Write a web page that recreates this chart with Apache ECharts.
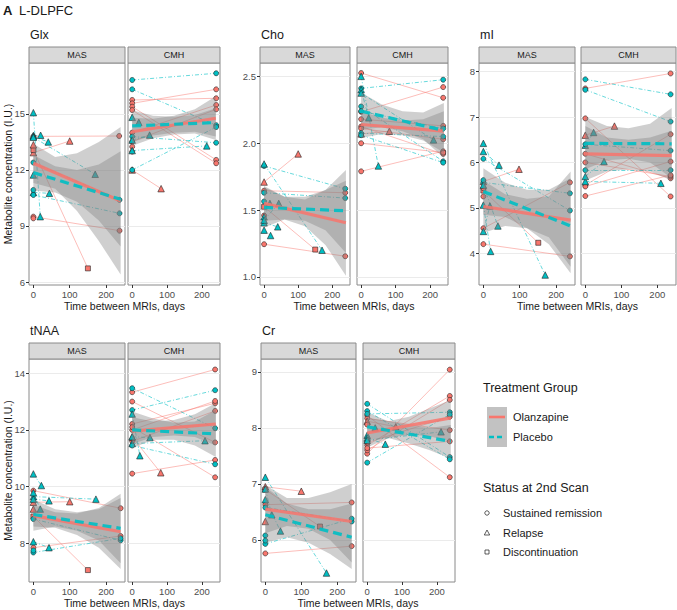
<!DOCTYPE html>
<html>
<head>
<meta charset="utf-8">
<script src="https://cdn.jsdelivr.net/npm/echarts@6/dist/echarts.min.js"></script>
<style>
  html, body { margin: 0; padding: 0; background: #fff; }
  #chart { width: 677px; height: 610px; }
</style>
</head>
<body>
<div id="chart"></div>
<script>
// subject rows: [group, status at 2nd scan, baseline value, days to 2nd scan, 2nd value]
// group O = Olanzapine, P = Placebo; status S = sustained, R = relapse, D = discontinuation
var glxMAS = [
  ['P', 'R', 15.07, 19, 9.5], ['P', 'R', 13.85, 20, 13.86], ['P', 'R', 13.8, 41, 13.5],
  ['P', 'R', 13.75, 170, 11.77], ['P', 'R', 10.8, 44, 10.75], ['P', 'S', 12.4, 237, 10.4],
  ['P', 'S', 10.66, 237, 9.68], ['P', 'R', 11.73, null, null], ['P', 'S', 10.93, null, null],
  ['O', 'S', 13.8, 236, 13.82], ['O', 'R', 12.93, 100, 13.55], ['O', 'D', 13.07, 150, 6.73],
  ['O', 'S', 9.5, 237, 8.75], ['O', 'R', 13.35, null, null], ['O', 'S', 9.41, null, null]
];
var glxCMH = [
  ['P', 'S', 16.82, 241, 17.18], ['P', 'S', 16.32, 241, 14.4], ['P', 'S', 12.0, 241, 14.3],
  ['P', 'S', 13.79, 241, 13.46], ['P', 'R', 14.82, 19, 14.55], ['P', 'R', 13.6, 50, 13.87],
  ['P', 'R', 13.04, 214, 13.29],
  ['O', 'S', 15.75, 241, 15.84], ['O', 'S', 15.57, 241, 16.32], ['O', 'S', 15.39, 241, 12.54],
  ['O', 'S', 15.21, 241, 12.36], ['O', 'S', 14.0, 241, 15.48], ['O', 'S', 13.52, 241, 15.25],
  ['O', 'R', 12.0, 83, 11.0], ['O', 'S', 13.25, null, null], ['O', 'S', 12.98, null, null]
];
var choMAS = [
  ['O', 'R', 1.71, 100, 1.92], ['O', 'S', 1.645, 238, 1.63], ['O', 'D', 1.525, 150, 1.205],
  ['O', 'S', 1.245, 238, 1.155], ['O', 'S', 1.46, null, null],
  ['P', 'S', 1.83, 238, 1.66], ['P', 'S', 1.63, 238, 1.59], ['P', 'R', 1.845, 170, 1.2],
  ['P', 'R', 1.35, 19, 1.31], ['P', 'R', 1.45, 17, 1.55], ['P', 'R', 1.405, 40, 1.375],
  ['P', 'R', 1.425, 43, 1.55], ['P', 'S', 1.565, null, null]
];
var choCMH = [
  ['O', 'S', 2.525, 238, 2.34], ['O', 'S', 2.235, 238, 2.42], ['O', 'S', 1.79, 238, 1.94],
  ['O', 'S', 2.18, 238, 2.13], ['O', 'S', 2.125, 238, 1.92], ['O', 'S', 2.11, 238, 2.03],
  ['O', 'R', 2.07, 82, 2.09], ['O', 'S', 2.0, 238, 1.93],
  ['P', 'R', 2.5, 50, 1.83], ['P', 'S', 2.41, 238, 2.475], ['P', 'R', 2.4, 22, 2.19],
  ['P', 'R', 2.375, 210, 2.025], ['P', 'S', 2.275, 238, 1.865], ['P', 'S', 2.24, 238, 2.11],
  ['P', 'S', 2.075, 238, 2.05], ['P', 'S', 2.06, 238, 1.855]
];
var miMAS = [
  ['P', 'R', 6.42, 170, 3.52], ['P', 'R', 6.24, 43, 5.94], ['P', 'S', 6.08, 238, 4.94],
  ['P', 'S', 5.56, 238, 5.32], ['P', 'R', 5.06, 20, 4.04], ['P', 'R', 4.48, 18, 5.04],
  ['P', 'R', 5.5, 40, 4.6], ['P', 'S', 5.61, null, null],
  ['O', 'R', 5.58, 98, 5.85], ['O', 'S', 4.55, 238, 5.56], ['O', 'D', 5.38, 151, 4.23],
  ['O', 'S', 4.2, 238, 3.93], ['O', 'S', 5.43, null, null], ['O', 'S', 5.25, null, null]
];
var miCMH = [
  ['O', 'S', 7.63, 237, 7.96], ['P', 'S', 7.83, 237, 7.5], ['P', 'S', 7.6, 237, 6.9],
  ['O', 'S', 6.97, 237, 5.25], ['O', 'R', 6.6, 81, 6.8], ['P', 'R', 6.38, 23, 6.66],
  ['P', 'R', 5.58, 210, 5.54], ['P', 'S', 5.83, 237, 5.83], ['P', 'R', 5.69, 52, 6.02],
  ['P', 'S', 6.4, 237, 6.26], ['O', 'S', 6.19, 237, 5.65], ['O', 'S', 6.0, 237, 5.69],
  ['O', 'S', 5.5, 237, 6.62], ['O', 'S', 5.47, 237, 6.02], ['O', 'S', 5.26, 237, 5.72]
];
var tnaaMAS = [
  ['P', 'R', 10.45, 22, 10.04], ['P', 'R', 9.65, 172, 9.56], ['O', 'S', 9.86, 240, 9.24],
  ['O', 'R', 9.45, 100, 9.47], ['P', 'R', 9.56, 43, 9.5], ['P', 'R', 9.79, 19, 9.21],
  ['P', 'S', 8.86, 240, 8.11], ['O', 'D', 8.95, 150, 7.06], ['P', 'R', 8.06, 43, 7.85],
  ['O', 'S', 7.85, 240, 8.26], ['P', 'S', 7.68, 240, 8.18], ['O', 'R', 9.21, null, null],
  ['P', 'S', 7.75, null, null]
];
var tnaaCMH = [
  ['O', 'S', 13.33, 238, 14.13], ['P', 'S', 13.47, 238, 12.06], ['P', 'S', 12.7, 238, 13.4],
  ['O', 'S', 13.0, 238, 11.56], ['O', 'S', 12.21, 238, 12.94], ['O', 'S', 12.0, 238, 13.02],
  ['O', 'S', 11.6, 238, 12.67], ['O', 'R', 11.75, 82, 10.49], ['O', 'S', 12.1, 238, 10.33],
  ['O', 'S', 10.46, 238, 10.94], ['P', 'R', 12.56, 22, 11.09], ['P', 'R', 11.76, 51, 11.73],
  ['P', 'R', 11.52, 209, 11.62], ['P', 'S', 11.45, 238, 10.79]
];
var crMAS = [
  ['O', 'R', 6.95, 100, 6.87], ['O', 'D', 6.9, 152, 6.24], ['O', 'S', 6.63, 240, 6.67],
  ['O', 'S', 5.76, 240, 5.89], ['O', 'R', 6.33, null, null],
  ['P', 'R', 7.12, 170, 5.41], ['P', 'R', 6.91, 18, 6.45], ['P', 'R', 6.72, 42, 6.16],
  ['P', 'S', 6.58, 240, 6.33], ['P', 'S', 5.93, 240, 6.38], ['P', 'S', 6.08, null, null],
  ['P', 'S', 5.99, null, null]
];
var crCMH = [
  ['O', 'S', 7.54, 237, 9.04], ['O', 'S', 7.69, 237, 8.57], ['O', 'S', 7.6, 237, 8.5],
  ['O', 'S', 8.22, 237, 7.12], ['O', 'S', 8.17, 237, 7.96], ['O', 'R', 8.12, 82, 8.02],
  ['O', 'S', 7.74, 237, 8.2], ['O', 'S', 7.64, 237, 7.76], ['O', 'S', 8.06, null, null],
  ['P', 'S', 8.43, 237, 7.48], ['P', 'S', 8.3, 237, 7.44], ['P', 'S', 8.25, 237, 8.28],
  ['P', 'S', 7.38, 237, 8.24], ['P', 'R', 7.87, 23, 8.0], ['P', 'R', 7.82, 52, 7.71],
  ['P', 'R', 7.78, 212, 7.93]
];

// fitted lines at fitX, [Olanzapine, Placebo]
var fitX = [0, 240];
var glxMASFit = [[12.36, 10.34], [11.86, 10.43]];
var glxCMHFit = [[14.05, 14.77], [14.36, 14.54]];
var choMASFit = [[1.55, 1.405], [1.52, 1.495]];
var choCMHFit = [[2.14, 2.09], [2.24, 2.095]];
var miMASFit = [[5.03, 4.73], [5.36, 4.6]];
var miCMHFit = [[6.19, 6.15], [6.42, 6.41]];
var tnaaMASFit = [[8.98, 8.41], [9.02, 8.53]];
var tnaaCMHFit = [[11.96, 12.21], [12.0, 11.86]];
var crMASFit = [[6.55, 6.33], [6.45, 6.05]];
var crCMHFit = [[7.91, 8.18], [8.02, 7.76]];

// confidence bands [low, high] at bandX, [Olanzapine, Placebo]
var bandX = [0, 60, 120, 180, 240];
var glxMASBand = [
  [[11.3, 13.4], [11.0, 12.7], [9.8, 12.9], [8.2, 13.5], [6.4, 14.3]],
  [[10.9, 12.8], [10.8, 12.2], [10.3, 12.0], [9.3, 12.3], [7.9, 13.0]]];
var glxCMHBand = [
  [[13.3, 14.8], [13.7, 14.75], [13.9, 14.9], [13.95, 15.25], [13.6, 15.95]],
  [[13.5, 15.2], [13.85, 14.9], [14.0, 14.85], [14.05, 14.95], [13.8, 15.3]]];
var choMASBand = [
  [[1.42, 1.68], [1.43, 1.6], [1.38, 1.58], [1.24, 1.65], [1.01, 1.8]],
  [[1.37, 1.67], [1.43, 1.6], [1.42, 1.6], [1.35, 1.65], [1.18, 1.72]]];
var choCMHBand = [
  [[2.04, 2.24], [2.07, 2.19], [2.06, 2.17], [2.02, 2.18], [1.93, 2.24]],
  [[2.1, 2.38], [2.12, 2.29], [2.09, 2.24], [2.03, 2.23], [1.89, 2.3]]];
var miMASBand = [
  [[4.45, 5.6], [4.6, 5.3], [4.55, 5.2], [4.35, 5.25], [3.7, 5.8]],
  [[4.85, 5.87], [4.8, 5.55], [4.55, 5.4], [4.2, 5.4], [3.56, 5.65]]];
var miCMHBand = [
  [[5.6, 6.8], [5.8, 6.55], [5.85, 6.5], [5.8, 6.55], [5.6, 6.7]],
  [[5.85, 7.0], [6.05, 6.8], [6.08, 6.75], [6.0, 6.85], [5.65, 7.2]]];
var tnaaMASBand = [
  [[8.6, 9.35], [8.55, 9.1], [8.3, 9.05], [7.85, 9.25], [7.1, 9.75]],
  [[8.45, 9.55], [8.6, 9.2], [8.45, 9.1], [8.1, 9.2], [7.3, 9.6]]];
var tnaaCMHBand = [
  [[11.5, 12.45], [11.75, 12.3], [11.8, 12.35], [11.75, 12.55], [11.45, 12.95]],
  [[11.35, 12.65], [11.65, 12.4], [11.65, 12.25], [11.45, 12.3], [11.05, 12.7]]];
var crMASBand = [
  [[6.12, 6.98], [6.25, 6.75], [6.2, 6.75], [6.0, 6.85], [5.6, 7.0]],
  [[5.95, 6.95], [6.05, 6.65], [5.95, 6.55], [5.75, 6.55], [5.48, 6.65]]];
var crCMHBand = [
  [[7.65, 8.18], [7.82, 8.12], [7.88, 8.2], [7.85, 8.35], [7.75, 8.5]],
  [[7.78, 8.28], [7.82, 8.12], [7.72, 8.05], [7.6, 8.0], [7.45, 8.05]]];

// tick labels
var xTicks = [0, 100, 200];
var glxTicks = [6, 9, 12, 15];
var choTicks = [1.0, 1.5, 2.0, 2.5];
var miTicks = [4, 5, 6, 7, 8];
var tnaaTicks = [8, 10, 12, 14];
var crTicks = [6, 7, 8, 9];

var OLZ = '#F8766D', PLA = '#00BFC4';
var FONT = '"Liberation Sans", Arial, sans-serif';

var panels = [
  { name: 'Glx', y: [5.84, 17.73], ticks: glxTicks, dec: 0, facets: [
    { label: 'MAS', rect: [29, 63, 96, 222], subj: glxMAS, fit: glxMASFit, band: glxMASBand },
    { label: 'CMH', rect: [128, 63, 92, 222], subj: glxCMH, fit: glxCMHFit, band: glxCMHBand }] },
  { name: 'Cho', y: [0.94, 2.6], ticks: choTicks, dec: 1, facets: [
    { label: 'MAS', rect: [260, 63, 90, 222], subj: choMAS, fit: choMASFit, band: choMASBand },
    { label: 'CMH', rect: [357, 63, 91, 222], subj: choCMH, fit: choCMHFit, band: choCMHBand }] },
  { name: 'mI', y: [3.3, 8.19], ticks: miTicks, dec: 0, facets: [
    { label: 'MAS', rect: [479, 63, 96, 222], subj: miMAS, fit: miMASFit, band: miMASBand },
    { label: 'CMH', rect: [581, 63, 95, 222], subj: miCMH, fit: miCMHFit, band: miCMHBand }] },
  { name: 'tNAA', y: [6.64, 14.5], ticks: tnaaTicks, dec: 0, facets: [
    { label: 'MAS', rect: [29, 359, 96, 223], subj: tnaaMAS, fit: tnaaMASFit, band: tnaaMASBand },
    { label: 'CMH', rect: [128, 359, 92, 223], subj: tnaaCMH, fit: tnaaCMHFit, band: tnaaCMHBand }] },
  { name: 'Cr', y: [5.25, 9.23], ticks: crTicks, dec: 0, facets: [
    { label: 'MAS', rect: [261, 359, 95, 223], subj: crMAS, fit: crMASFit, band: crMASBand },
    { label: 'CMH', rect: [363, 359, 92, 223], subj: crCMH, fit: crCMHFit, band: crCMHBand }] }
];

var shapeOf = { S: 'circle', R: 'triangle', D: 'rect' };
var sizeOf = { S: 5, R: 6.5, D: 5 };

var grids = [], xAxes = [], yAxes = [], series = [], graphics = [];

function txt(x, y, s, size, opts) {
  var o = {
    type: 'text', x: x, y: y, silent: true, z: 10,
    style: {
      text: s, fill: '#1a1a1a', font: size + 'px ' + FONT,
      textAlign: 'left', textVerticalAlign: 'middle'
    }
  };
  if (opts) { for (var k in opts) o.style[k] = opts[k]; }
  return o;
}

function bandSeries(k, b) {
  return {
    type: 'custom', xAxisIndex: k, yAxisIndex: k, silent: true, z: 3,
    data: bandX.map(function (x, i) { return [x, b[i][0], b[i][1]]; }),
    encode: { x: 0, y: [1, 2] },
    renderItem: function (params, api) {
      if (params.dataIndex !== 0) return null;
      var pts = [], i;
      for (i = 0; i < bandX.length; i++) pts.push(api.coord([bandX[i], b[i][1]]));
      for (i = bandX.length - 1; i >= 0; i--) pts.push(api.coord([bandX[i], b[i][0]]));
      return { type: 'polygon', shape: { points: pts }, style: { fill: 'rgba(128,128,128,0.38)' } };
    }
  };
}

var k = 0;
panels.forEach(function (p, pi) {
  var r0 = p.facets[0].rect;
  graphics.push(txt(r0[0] + 1, r0[1] - 28, p.name, 12.5));
  var pr = p.facets[1].rect;
  graphics.push(txt((r0[0] + pr[0] + pr[2]) / 2, r0[1] + r0[3] + 21, 'Time between MRIs, days', 10.5,
    { textAlign: 'center' }));
  if (pi === 0 || pi === 3) {
    var yt = txt(8, r0[1] + r0[3] / 2, 'Metabolite concentration (I.U.)', 10.5, { textAlign: 'center' });
    yt.rotation = Math.PI / 2;
    graphics.push(yt);
  }

  p.facets.forEach(function (f, fi) {
    var r = f.rect;
    var left = fi === 0;
    grids.push({ left: r[0], top: r[1], width: r[2], height: r[3], show: true,
      borderColor: '#8a8a8a', borderWidth: 1, backgroundColor: '#fff' });
    xAxes.push({
      type: 'value', gridIndex: k, min: -12, max: 252,
      axisLine: { show: false, onZero: false },
      splitLine: { show: false },
      axisTick: { show: true, length: 3, customValues: xTicks, lineStyle: { color: '#333' } },
      axisLabel: { customValues: xTicks, fontSize: 9.5, color: '#4d4d4d', margin: 4, fontFamily: FONT }
    });
    yAxes.push({
      type: 'value', gridIndex: k, min: p.y[0], max: p.y[1],
      axisLine: { show: false, onZero: false },
      splitLine: { show: true, customValues: p.ticks, lineStyle: { color: '#ebebeb', width: 1 } },
      axisTick: { show: left, length: 3, customValues: p.ticks, lineStyle: { color: '#333' } },
      axisLabel: {
        show: left, customValues: p.ticks, fontSize: 9.5, color: '#4d4d4d', margin: 4, fontFamily: FONT,
        formatter: function (v) { return v.toFixed(p.dec); }
      }
    });

    // strip
    graphics.push({ type: 'rect', silent: true, z: 5,
      shape: { x: r[0], y: r[1] - 16, width: r[2], height: 16 },
      style: { fill: '#d9d9d9', stroke: '#8a8a8a', lineWidth: 1 } });
    graphics.push(txt(r[0] + r[2] / 2, r[1] - 8, f.label, 9, { textAlign: 'center', fill: '#1a1a1a' }));

    ['O', 'P'].forEach(function (g) {
      var color = g === 'O' ? OLZ : PLA;
      var rows = f.subj.filter(function (s) { return s[0] === g; });
      // subject trajectories
      series.push({
        type: 'lines', coordinateSystem: 'cartesian2d', xAxisIndex: k, yAxisIndex: k,
        silent: true, z: 1, polyline: false,
        lineStyle: g === 'O'
          ? { color: color, width: 0.8, opacity: 0.6, type: 'solid' }
          : { color: color, width: 0.8, opacity: 0.75, type: [4, 2, 1, 2] },
        data: rows.filter(function (s) { return s[3] != null; }).map(function (s) {
          return { coords: [[0, s[2]], [s[3], s[4]]] };
        })
      });
      // points
      var pts = [];
      rows.forEach(function (s) {
        pts.push([0, s[2], s[1]]);
        if (s[3] != null) pts.push([s[3], s[4], s[1]]);
      });
      series.push({
        type: 'scatter', xAxisIndex: k, yAxisIndex: k, silent: true, z: 2,
        symbol: function (v) { return shapeOf[v[2]]; },
        symbolSize: function (v) { return sizeOf[v[2]]; },
        itemStyle: { color: color, borderColor: '#222', borderWidth: 0.6, opacity: 1 },
        data: pts
      });
    });

    // confidence bands
    series.push(bandSeries(k, f.band[0]));
    series.push(bandSeries(k, f.band[1]));

    // fitted lines
    ['O', 'P'].forEach(function (g, gi) {
      series.push({
        type: 'line', xAxisIndex: k, yAxisIndex: k, silent: true, z: 4, symbol: 'none',
        lineStyle: g === 'O'
          ? { color: OLZ, width: 3.2, opacity: 0.85 }
          : { color: PLA, width: 3.2, opacity: 0.9, type: [9, 5] },
        data: fitX.map(function (x, i) { return [x, f.fit[gi][i]]; })
      });
    });
    k++;
  });
});

// header
graphics.push(txt(3, 10, 'A', 13, { font: 'bold 13px ' + FONT }));
graphics.push(txt(19, 10, 'L-DLPFC', 13));

// legends
graphics.push(txt(483, 388, 'Treatment Group', 12.5));
graphics.push({ type: 'rect', silent: true, z: 10, shape: { x: 487, y: 407, width: 20, height: 40 },
  style: { fill: '#c2c2c2' } });
graphics.push({ type: 'line', silent: true, z: 11, shape: { x1: 489, y1: 417, x2: 505, y2: 417 },
  style: { stroke: OLZ, lineWidth: 2.6 } });
graphics.push({ type: 'line', silent: true, z: 11, shape: { x1: 489, y1: 437, x2: 505, y2: 437 },
  style: { stroke: PLA, lineWidth: 2.6, lineDash: [5, 3] } });
graphics.push(txt(513, 417, 'Olanzapine', 11));
graphics.push(txt(513, 437, 'Placebo', 11));

graphics.push(txt(483, 488, 'Status at 2nd Scan', 12.5));
graphics.push({ type: 'circle', silent: true, z: 11, shape: { cx: 487, cy: 513, r: 2.2 },
  style: { fill: 'none', stroke: '#333', lineWidth: 0.8 } });
graphics.push({ type: 'polygon', silent: true, z: 11, shape: { points: [[487, 530], [484.3, 535], [489.7, 535]] },
  style: { fill: 'none', stroke: '#333', lineWidth: 0.8 } });
graphics.push({ type: 'rect', silent: true, z: 11, shape: { x: 485, y: 550, width: 4, height: 4 },
  style: { fill: 'none', stroke: '#333', lineWidth: 0.8 } });
graphics.push(txt(503, 513, 'Sustained remission', 11));
graphics.push(txt(503, 533, 'Relapse', 11));
graphics.push(txt(503, 552, 'Discontinuation', 11));

var chart = echarts.init(document.getElementById('chart'), null, { renderer: 'svg' });
chart.setOption({
  backgroundColor: '#fff',
  animation: false,
  textStyle: { fontFamily: FONT },
  grid: grids,
  xAxis: xAxes,
  yAxis: yAxes,
  series: series,
  graphic: graphics
});
</script>
</body>
</html>
